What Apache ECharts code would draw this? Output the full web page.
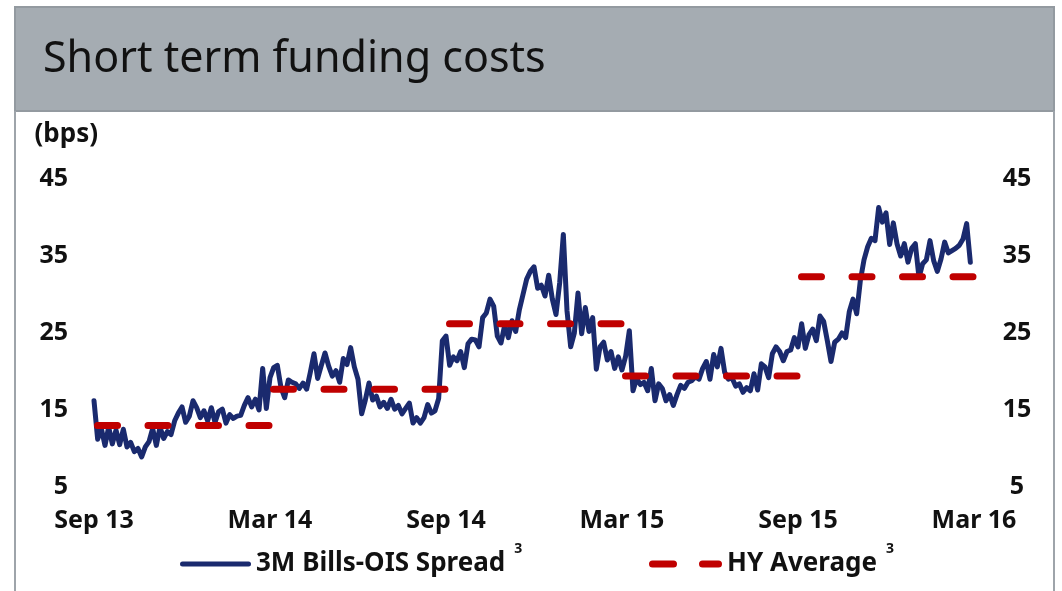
<!DOCTYPE html>
<html>
<head>
<meta charset="utf-8">
<script src="https://cdn.jsdelivr.net/npm/echarts@6/dist/echarts.min.js"></script>
<style>
html,body{margin:0;padding:0;background:#ffffff;}
#chart{width:1062px;height:591px;}
</style>
</head>
<body>
<div id="chart"></div>
<script>
// ---- data ----
const xLabels = ['Sep 13', 'Mar 14', 'Sep 14', 'Mar 15', 'Sep 15', 'Mar 16'];
const yTicks = [5, 15, 25, 35, 45];
const seriesNames = ['3M Bills-OIS Spread', 'HY Average'];
// spread observations, one every 1/8 month starting Sep 2013
const spreadStepMonths = 0.125;
const spread = [
  16.2, 11.2, 12.6, 10.4, 12.8, 10.6, 12.4, 10.5,
  12.5, 10.2, 10.8, 9.6, 10.0, 8.9, 10.2, 10.9,
  12.6, 10.4, 12.8, 11.3, 12.2, 11.8, 13.6, 14.6,
  15.4, 13.4, 14.2, 16.2, 15.3, 14.0, 14.9, 13.6,
  15.3, 13.4, 14.8, 15.1, 13.3, 14.4, 13.9, 14.2,
  14.3, 15.6, 16.6, 15.4, 16.4, 15.0, 20.4, 15.2,
  19.2, 20.5, 20.8, 17.9, 16.6, 18.9, 18.6, 18.4,
  17.8, 18.5, 17.7, 19.9, 22.3, 19.1, 20.8, 22.4,
  20.7, 19.4, 20.1, 18.6, 21.7, 20.9, 23.1, 20.6,
  19.0, 14.5, 16.3, 18.5, 16.3, 16.8, 15.4, 16.0,
  15.2, 16.4, 15.1, 15.6, 14.5, 15.2, 15.9, 13.3,
  14.0, 13.3, 14.0, 15.7, 14.6, 14.9, 16.5, 24.0,
  24.6, 20.8, 21.9, 21.4, 22.6, 20.5, 23.6, 24.2,
  24.1, 23.2, 27.0, 27.6, 29.4, 28.5, 24.6, 23.7,
  26.0, 24.4, 26.6, 25.2, 28.0, 30.0, 32.0, 33.0,
  33.6, 30.8, 31.2, 29.8, 32.5, 29.4, 27.4, 31.5,
  37.8, 27.9, 23.2, 25.0, 30.2, 24.9, 28.3, 25.2,
  27.0, 20.3, 23.2, 23.8, 21.5, 22.6, 20.4, 21.9,
  20.2, 22.0, 25.3, 17.5, 19.1, 18.3, 18.6, 17.5,
  20.4, 16.2, 18.4, 17.8, 16.2, 17.0, 15.6, 17.0,
  18.2, 17.8, 18.6, 18.8, 19.3, 19.0, 20.4, 21.3,
  19.0, 22.2, 20.6, 23.0, 19.9, 19.0, 19.2, 18.1,
  18.4, 17.3, 17.9, 17.5, 19.7, 17.6, 21.0, 20.6,
  19.2, 22.3, 23.2, 22.6, 21.4, 22.6, 22.8, 24.4,
  23.2, 26.2, 23.0, 24.8, 25.5, 24.0, 27.2, 26.5,
  24.0, 21.3, 23.8, 24.2, 25.0, 24.4, 27.8, 29.4,
  27.5, 31.8, 34.5, 36.2, 37.3, 37.0, 41.3, 39.4,
  40.6, 36.5, 39.3, 36.6, 35.0, 36.6, 34.2, 36.0,
  36.6, 32.2, 34.0, 34.5, 37.0, 34.4, 33.0, 34.6,
  36.8, 35.4, 35.7, 36.0, 36.4, 37.2, 39.2, 34.2
];
// half-year averages (start month offset from Sep 2013, 6-month periods)
const hyStartMonth = [0, 6, 12, 18, 24];
const hyPeriodMonths = 6;
const hyAverage = [13.0, 17.7, 26.2, 19.4, 32.3];

// ---- build series data ----
const spreadData = spread.map((v, i) => [i * spreadStepMonths, v]);
const hyData = [];
hyStartMonth.forEach((s, k) => {
  if (k > 0) hyData.push([s, '-']);
  hyData.push([s, hyAverage[k]]);
  hyData.push([s + hyPeriodMonths, hyAverage[k]]);
});

const FONT = 'Noto Sans';
const TXT = '#111111';
const BLUE = '#1a2a6e';
const RED = '#c00000';

const legendRich = {
  t: { fontFamily: FONT, fontSize: 26, fontWeight: 'bold', color: TXT },
  s: { fontFamily: FONT, fontSize: 14, fontWeight: 'bold', color: TXT, padding: [0, 0, 30, 9] }
};

// legend icons: solid rounded bar / two rounded dashes
const blueIcon = 'path://M2.5,0H68.5A2.5,2.5,0,0,1,68.5,5H2.5A2.5,2.5,0,0,1,2.5,0Z';
const redIcon = 'path://M3.5,0H24.5A3.5,3.5,0,0,1,24.5,7H3.5A3.5,3.5,0,0,1,3.5,0Z' +
                'M53.5,0H69.5A3.5,3.5,0,0,1,69.5,7H53.5A3.5,3.5,0,0,1,53.5,0Z';

const chart = echarts.init(document.getElementById('chart'), null, { renderer: 'canvas' });
chart.setOption({
  animation: false,
  backgroundColor: '#ffffff',
  graphic: [
    { type: 'rect', z: 0, silent: true, shape: { x: 15, y: 7, width: 1039, height: 104 },
      style: { fill: '#a5acb2', stroke: '#939aa0', lineWidth: 2 } },
    { type: 'line', z: 0, silent: true, shape: { x1: 15, y1: 111, x2: 15, y2: 600 },
      style: { stroke: '#9ea4aa', lineWidth: 2 } },
    { type: 'line', z: 0, silent: true, shape: { x1: 1054, y1: 111, x2: 1054, y2: 600 },
      style: { stroke: '#9ea4aa', lineWidth: 2 } }
  ],
  title: {
    text: 'Short term funding costs',
    left: 43, top: 38, padding: 0, z: 10,
    textStyle: { fontFamily: FONT, fontSize: 43, fontWeight: 'normal', color: TXT }
  },
  grid: { left: 94, right: 88, top: 179, bottom: 104, containLabel: false },
  legend: [
    { data: [{ name: seriesNames[0], icon: blueIcon }], left: 180, top: 542, padding: 0,
      itemWidth: 71, itemHeight: 5,
      formatter: n => '{t|' + n + '}{s|3}', textStyle: { rich: legendRich } },
    { data: [{ name: seriesNames[1], icon: redIcon }], left: 649, top: 542, padding: 0,
      itemWidth: 73, itemHeight: 7,
      formatter: n => '{t|' + n + '}{s|3}', textStyle: { rich: legendRich } }
  ],
  xAxis: {
    type: 'value', min: 0, max: 30, interval: 6,
    axisLine: { show: false }, axisTick: { show: false }, splitLine: { show: false },
    axisLabel: {
      margin: 21, fontFamily: FONT, fontSize: 25, fontWeight: 'bold', color: TXT,
      formatter: v => xLabels[Math.round(v / 6)] || ''
    }
  },
  yAxis: [
    {
      type: 'value', min: yTicks[0], max: yTicks[yTicks.length - 1], interval: 10, position: 'left',
      name: '(bps)', nameLocation: 'end', nameGap: 31,
      nameTextStyle: { fontFamily: FONT, fontSize: 26, fontWeight: 'bold', color: TXT, align: 'right', padding: [0, -4, 0, 0] },
      axisLine: { show: false }, axisTick: { show: false }, splitLine: { show: false },
      axisLabel: { margin: 26, fontFamily: FONT, fontSize: 25, fontWeight: 'bold', color: TXT }
    },
    {
      type: 'value', min: yTicks[0], max: yTicks[yTicks.length - 1], interval: 10, position: 'right',
      axisLine: { show: false }, axisTick: { show: false }, splitLine: { show: false },
      axisLabel: { margin: 43, align: 'center', fontFamily: FONT, fontSize: 25, fontWeight: 'bold', color: TXT }
    }
  ],
  series: [
    {
      name: seriesNames[0], type: 'line', data: spreadData, yAxisIndex: 0,
      symbol: 'none', silent: true, z: 2,
      lineStyle: { color: BLUE, width: 5, join: 'round', cap: 'round' },
      itemStyle: { color: BLUE }
    },
    {
      name: seriesNames[1], type: 'line', data: hyData, yAxisIndex: 0,
      symbol: 'none', silent: true, z: 3, connectNulls: false,
      lineStyle: { color: RED, width: 7, type: [20, 30.5], dashOffset: -3.5, cap: 'round' },
      itemStyle: { color: RED }
    }
  ]
});
</script>
</body>
</html>
